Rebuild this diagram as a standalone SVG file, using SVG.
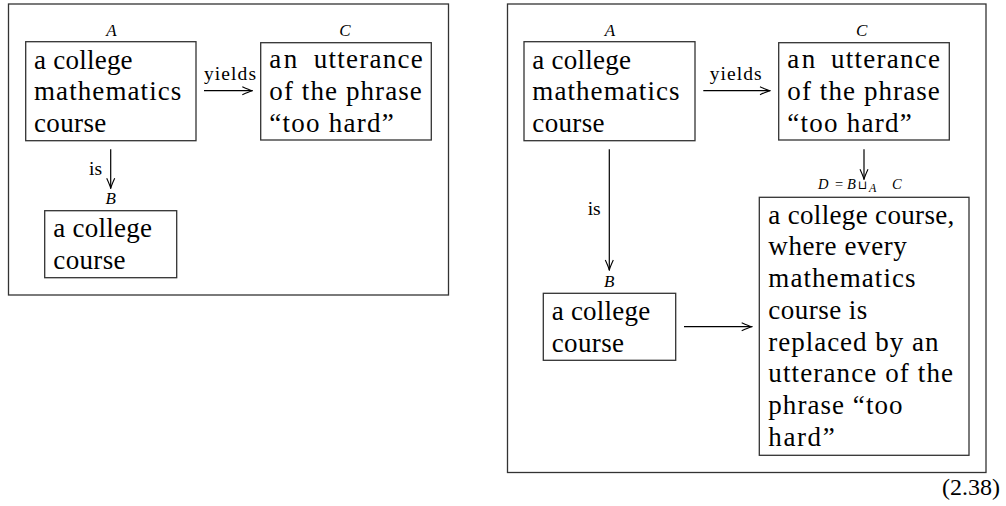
<svg xmlns="http://www.w3.org/2000/svg" width="1006" height="506" viewBox="0 0 1006 506">
<style>
.frame{fill:none;stroke:#333;stroke-width:1.3}
.box{fill:none;stroke:#333;stroke-width:1.3}
.t{font-family:'Liberation Serif','DejaVu Serif',serif;font-size:27px;fill:#000}
.lbl{font-family:'Liberation Serif','DejaVu Serif',serif;font-size:17px;font-style:italic;fill:#000;text-anchor:middle}
.el{font-family:'Liberation Serif','DejaVu Serif',serif;font-size:19.5px;fill:#000}
.dl{font-family:'Liberation Serif','DejaVu Serif',serif;font-size:14.5px;fill:#000}
.sym{font-family:'DejaVu Sans',sans-serif;font-size:12px}
.conn line{stroke:#000;stroke-width:1.2;fill:none;marker-end:url(#to)}
</style>
<defs>
<marker id="to" viewBox="-11 -5 12 10" refX="0" refY="0" markerWidth="12" markerHeight="10" markerUnits="userSpaceOnUse" orient="auto">
<path d="M-10,-4 Q-3,-0.8 0,0 Q-3,0.8 -10,4" fill="none" stroke="#000" stroke-width="1.1"/>
</marker>
</defs>
<rect class="frame" x="8.5" y="4" width="440" height="291"/>
<rect class="frame" x="507.5" y="4" width="478.5" height="468.5"/>
<g id="L-A">
<text class="lbl" x="111.5" y="35.5">A</text>
<rect class="box" x="25.7" y="41.7" width="170.3" height="99"/>
<text class="t" x="34" y="68.5" textLength="98.6">a college</text>
<text class="t" x="34" y="100.3" textLength="147.3">mathematics</text>
<text class="t" x="34" y="132" textLength="72.3">course</text>
</g>
<g id="L-C">
<text class="lbl" x="345" y="35.5">C</text>
<rect class="box" x="260.7" y="42.7" width="170.6" height="97.3"/>
<text class="t" x="269.3" y="68" textLength="28">an</text>
<text class="t" x="313.7" y="68" textLength="109">utterance</text>
<text class="t" x="269.3" y="99.7" textLength="152.5">of the phrase</text>
<text class="t" x="269.3" y="131.5" textLength="124.5">“too hard”</text>
</g>
<g id="L-B">
<text class="lbl" x="110.7" y="204">B</text>
<rect class="box" x="44.7" y="210.7" width="132" height="67"/>
<text class="t" x="53.3" y="237.3" textLength="98.6">a college</text>
<text class="t" x="53.3" y="269.3" textLength="72.3">course</text>
</g>
<g id="R-A">
<text class="lbl" x="610" y="35.5">A</text>
<rect class="box" x="524" y="41.7" width="171" height="99"/>
<text class="t" x="532.3" y="68.5" textLength="98.6">a college</text>
<text class="t" x="532.3" y="100.3" textLength="147.3">mathematics</text>
<text class="t" x="532.3" y="132" textLength="72.3">course</text>
</g>
<g id="R-C">
<text class="lbl" x="861.7" y="35.5">C</text>
<rect class="box" x="778.7" y="42.7" width="170.6" height="97.3"/>
<text class="t" x="787.3" y="68" textLength="28">an</text>
<text class="t" x="831" y="68" textLength="109">utterance</text>
<text class="t" x="787.3" y="99.7" textLength="152.5">of the phrase</text>
<text class="t" x="787.3" y="131.5" textLength="124.5">“too hard”</text>
</g>
<g id="R-B">
<text class="lbl" x="609.3" y="286.7">B</text>
<rect class="box" x="543.3" y="293.3" width="132.4" height="67"/>
<text class="t" x="551.7" y="320" textLength="98.6">a college</text>
<text class="t" x="551.7" y="351.7" textLength="72.3">course</text>
</g>
<g id="R-D">
<text class="dl" y="189"><tspan x="818" font-style="italic">D</tspan><tspan x="835">=</tspan><tspan x="847" font-style="italic">B</tspan><tspan class="sym" x="858">⊔</tspan><tspan x="869" y="192" font-style="italic" font-size="12">A</tspan><tspan x="892" y="189" font-style="italic">C</tspan></text>
<rect class="box" x="759.3" y="197.3" width="209.7" height="258"/>
<text class="t" x="768.3" y="223.7" textLength="186">a college course,</text>
<text class="t" x="768.3" y="255.4" textLength="138.5">where every</text>
<text class="t" x="768.3" y="287.1" textLength="147.3">mathematics</text>
<text class="t" x="768.3" y="318.8" textLength="99">course is</text>
<text class="t" x="768.3" y="350.5" textLength="170.1">replaced by an</text>
<text class="t" x="768.3" y="382.2" textLength="184.8">utterance of the</text>
<text class="t" x="768.3" y="413.9" textLength="134.2">phrase “too</text>
<text class="t" x="768.3" y="445.6" textLength="66.4">hard”</text>
</g>
<g id="connectors" class="conn">
<line x1="204" y1="90.7" x2="252.3" y2="90.7"/>
<line x1="110.7" y1="149.3" x2="110.7" y2="188.3"/>
<line x1="703.3" y1="90.7" x2="770" y2="90.7"/>
<line x1="609.3" y1="149.3" x2="609.3" y2="270"/>
<line x1="864" y1="149.3" x2="864" y2="179.3"/>
<line x1="684" y1="326.7" x2="751.7" y2="326.7"/>
<text class="el" x="204" y="80" textLength="52">yields</text>
<text class="el" x="102" y="175" text-anchor="end">is</text>
<text class="el" x="709.7" y="80" textLength="52">yields</text>
<text class="el" x="600.7" y="215" text-anchor="end">is</text>
</g>
<text class="t" x="1000" y="495" text-anchor="end" style="font-size:24px">(2.38)</text>
</svg>
